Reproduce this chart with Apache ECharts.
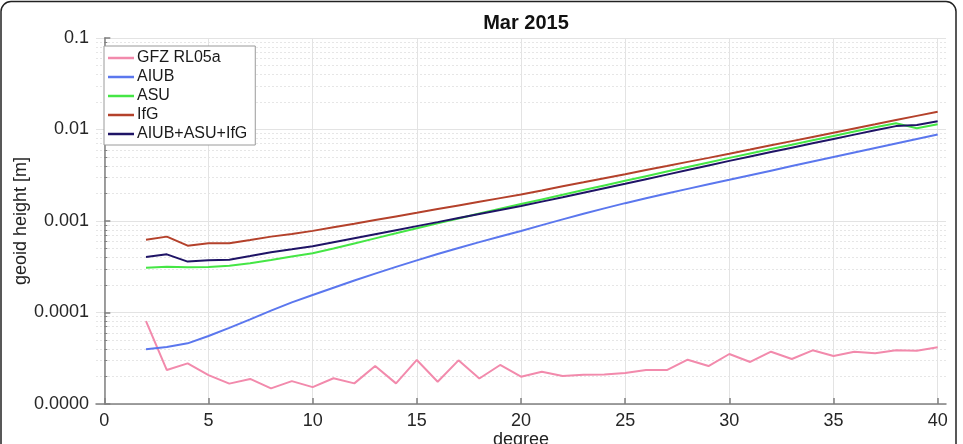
<!DOCTYPE html>
<html>
<head>
<meta charset="utf-8">
<script src="https://cdn.jsdelivr.net/npm/echarts@6/dist/echarts.min.js"></script>
<style>
  html, body { margin: 0; padding: 0; background: #fff; }
  #chart { width: 963px; height: 444px; }
</style>
</head>
<body>
<div id="chart"></div>
<script>
// spherical harmonic degree 2..40
const degrees = [2, 3, 4, 5, 6, 7, 8, 9, 10, 11, 12, 13, 14, 15, 16, 17, 18, 19, 20, 21,
  22, 23, 24, 25, 26, 27, 28, 29, 30, 31, 32, 33, 34, 35, 36, 37, 38, 39, 40]

const gfz = [8.07e-5, 2.35e-5, 2.78e-5, 2.07e-5, 1.67e-5, 1.88e-5, 1.48e-5, 1.78e-5, 1.53e-5,
  1.91e-5, 1.68e-5, 2.60e-5, 1.68e-5, 3.03e-5, 1.75e-5, 3.0e-5, 1.9e-5, 2.67e-5, 1.99e-5,
  2.25e-5, 2.02e-5, 2.09e-5, 2.1e-5, 2.18e-5, 2.35e-5, 2.35e-5, 3.05e-5, 2.60e-5, 3.52e-5,
  2.88e-5, 3.73e-5, 3.10e-5, 3.86e-5, 3.35e-5, 3.73e-5, 3.58e-5, 3.86e-5, 3.82e-5, 4.16e-5]

const aiub = [3.96e-5, 4.20e-5, 4.60e-5, 5.53e-5, 6.78e-5, 8.41e-5, 1.047e-4, 1.291e-4, 1.552e-4,
  1.866e-4, 2.234e-4, 2.661e-4, 3.155e-4, 3.715e-4, 4.355e-4, 5.070e-4, 5.875e-4, 6.776e-4, 7.762e-4,
  9.016e-4, 1.042e-3, 1.199e-3, 1.374e-3, 1.567e-3, 1.770e-3, 1.995e-3, 2.244e-3, 2.518e-3, 2.818e-3,
  3.162e-3, 3.548e-3, 3.981e-3, 4.467e-3, 5.012e-3, 5.610e-3, 6.281e-3, 7.031e-3, 7.870e-3, 8.810e-3]

const asu = [3.09e-4, 3.17e-4, 3.13e-4, 3.14e-4, 3.25e-4, 3.45e-4, 3.75e-4, 4.1e-4, 4.45e-4,
  5.01e-4, 5.69e-4, 6.46e-4, 7.33e-4, 8.32e-4, 9.42e-4, 1.067e-3, 1.205e-3, 1.358e-3, 1.531e-3,
  1.722e-3, 1.936e-3, 2.178e-3, 2.449e-3, 2.754e-3, 3.090e-3, 3.467e-3, 3.890e-3, 4.365e-3, 4.898e-3,
  5.470e-3, 6.109e-3, 6.823e-3, 7.621e-3, 8.511e-3, 9.506e-3, 1.059e-2, 1.17e-2, 1.03e-2, 1.14e-2]

const ifg = [6.25e-4, 6.75e-4, 5.37e-4, 5.70e-4, 5.70e-4, 6.2e-4, 6.75e-4, 7.2e-4, 7.8e-4,
  8.53e-4, 9.33e-4, 1.023e-3, 1.122e-3, 1.230e-3, 1.349e-3, 1.479e-3, 1.622e-3, 1.778e-3, 1.950e-3,
  2.158e-3, 2.393e-3, 2.649e-3, 2.938e-3, 3.251e-3, 3.606e-3, 3.990e-3, 4.426e-3, 4.898e-3, 5.433e-3,
  6.039e-3, 6.714e-3, 7.464e-3, 8.299e-3, 9.226e-3, 1.026e-2, 1.140e-2, 1.268e-2, 1.409e-2, 1.567e-2]

const combined = [4.04e-4, 4.32e-4, 3.6e-4, 3.72e-4, 3.78e-4, 4.14e-4, 4.55e-4, 4.9e-4, 5.3e-4,
  5.86e-4, 6.49e-4, 7.18e-4, 7.94e-4, 8.79e-4, 9.72e-4, 1.076e-3, 1.191e-3, 1.318e-3, 1.459e-3,
  1.629e-3, 1.820e-3, 2.037e-3, 2.280e-3, 2.553e-3, 2.864e-3, 3.214e-3, 3.606e-3, 4.046e-3, 4.539e-3,
  5.070e-3, 5.662e-3, 6.324e-3, 7.063e-3, 7.889e-3, 8.790e-3, 9.795e-3, 1.089e-2, 1.12e-2, 1.23e-2]

const xTicks = [0, 5, 10, 15, 20, 25, 30, 35, 40]
// labels for 1e-5 .. 1e-1 (MATLAB prints the bottom one with 4 decimals)
const yTickLabels = ['0.0000', '0.0001', '0.001', '0.01', '0.1']

const seriesNames = ['GFZ RL05a', 'AIUB', 'ASU', 'IfG', 'AIUB+ASU+IfG']
const seriesColors = ['#f28aac', '#5b77ee', '#45e645', '#b4412b', '#1f1466']
const seriesData = [gfz, aiub, asu, ifg, combined]

const font = 'Liberation Sans, Arial, Helvetica, sans-serif'

const chart = echarts.init(document.getElementById('chart'), null, { renderer: 'canvas' })

chart.setOption({
  animation: false,
  backgroundColor: '#fff',
  textStyle: { fontFamily: font },
  title: {
    text: 'Mar 2015',
    left: 521,
    top: 8,
    textAlign: 'center',
    textStyle: { fontFamily: font, fontSize: 20, fontWeight: 'bold', color: '#111' }
  },
  graphic: [
    {
      type: 'rect',
      shape: { x: 1, y: 1.5, width: 955, height: 480, r: 10 },
      style: { fill: 'none', stroke: '#222', lineWidth: 1.5 },
      silent: true,
      z: 100
    }
  ],
  legend: {
    orient: 'vertical',
    left: 104,
    top: 46,
    padding: [4, 8, 3, 4],
    itemGap: 3,
    itemWidth: 26,
    itemHeight: 2.5,
    icon: 'rect',
    backgroundColor: '#fff',
    borderColor: '#9a9a9a',
    borderWidth: 1,
    borderRadius: 0,
    textStyle: { fontFamily: font, fontSize: 16, color: '#1a1a1a', padding: [0, 0, 0, -2], lineHeight: 16 },
    data: seriesNames
  },
  grid: { left: 96, right: 17, top: 38, bottom: 40, containLabel: false, outerBoundsMode: 'none' },
  xAxis: {
    type: 'value',
    min: -0.4,
    max: 40.4,
    name: 'degree',
    nameLocation: 'middle',
    nameGap: 27,
    nameMoveOverlap: false,
    nameTextStyle: { fontFamily: font, fontSize: 18, color: '#222' },
    axisLine: { show: true, lineStyle: { color: '#808080', width: 1.5 } },
    axisTick: { show: true, inside: true, length: 6, customValues: xTicks, lineStyle: { color: '#808080', width: 1.5 } },
    axisLabel: { customValues: xTicks, fontFamily: font, fontSize: 18, color: '#262626', margin: 8 },
    splitLine: { show: true, lineStyle: { color: '#e3e3e3', width: 1 } }
  },
  yAxis: {
    type: 'log',
    logBase: 10,
    min: 1e-5,
    max: 0.1,
    name: 'geoid height [m]',
    nameLocation: 'middle',
    nameGap: 66,
    nameMoveOverlap: false,
    nameTextStyle: { fontFamily: font, fontSize: 18, color: '#222' },
    axisLine: { show: true, lineStyle: { color: '#808080', width: 1.5 } },
    axisTick: { show: true, inside: true, length: 6, lineStyle: { color: '#808080', width: 1.5 } },
    minorTick: { show: true, splitNumber: 9, length: 3, lineStyle: { color: '#808080', width: 1 } },
    axisLabel: {
      fontFamily: font, fontSize: 18, color: '#262626', margin: 7,
      formatter: v => yTickLabels[Math.round(Math.log10(v)) + 5]
    },
    splitLine: { show: true, lineStyle: { color: '#e3e3e3', width: 1 } },
    minorSplitLine: { show: true, lineStyle: { color: '#e6e6e6', width: 1, type: [2, 2] } }
  },
  series: seriesNames.map((name, i) => ({
    name: name,
    type: 'line',
    data: degrees.map((d, j) => [d, seriesData[i][j]]),
    showSymbol: false,
    symbol: 'none',
    color: seriesColors[i],
    lineStyle: { width: 2, color: seriesColors[i] },
    z: 2 + i
  }))
})
</script>
</body>
</html>
